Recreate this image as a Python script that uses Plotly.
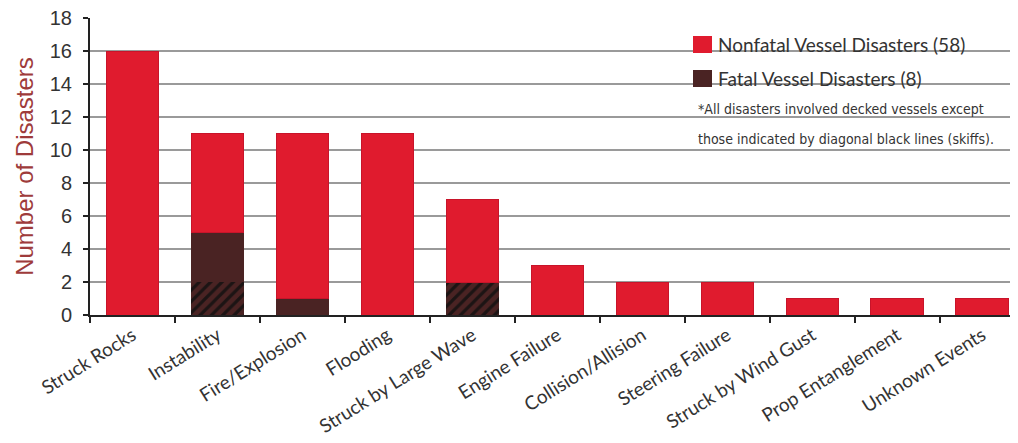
import plotly.graph_objects as go

categories = ["Struck Rocks", "Instability", "Fire/Explosion", "Flooding",
              "Struck by Large Wave", "Engine Failure", "Collision/Allision",
              "Steering Failure", "Struck by Wind Gust", "Prop Entanglement",
              "Unknown Events"]
fatal_skiff = [0, 2, 0, 0, 2, 0, 0, 0, 0, 0, 0]
fatal_decked = [0, 3, 1, 0, 0, 0, 0, 0, 0, 0, 0]
nonfatal = [16, 6, 10, 11, 5, 3, 2, 2, 1, 1, 1]
y_ticks = [0, 2, 4, 6, 8, 10, 12, 14, 16, 18]

RED = "#E01B2E"
BROWN = "#4A2323"

fig = go.Figure()
fig.add_trace(go.Bar(
    x=categories, y=fatal_skiff, name="Fatal (skiff)", showlegend=False,
    marker=dict(color=BROWN, line=dict(width=0),
                pattern=dict(shape="/", fgcolor="#1c1414", bgcolor=BROWN,
                             size=8, solidity=0.4, fillmode="replace")),
    width=0.62,
))
fig.add_trace(go.Bar(
    x=categories, y=fatal_decked, name="Fatal Vessel Disasters (8)", showlegend=False,
    marker=dict(color=BROWN, line=dict(width=0)), width=0.62,
))
fig.add_trace(go.Bar(
    x=categories, y=nonfatal, name="Nonfatal Vessel Disasters (58)", showlegend=False,
    marker=dict(color=RED, line=dict(width=1, color="#C8142A")), width=0.62,
))

# page has an 8px body margin; figure coordinates are page coordinates minus 8
OFF = 8
W, H = 1018 - OFF, 443 - OFF
L, T = 90 - OFF, 18 - OFF
B = H - (315 - OFF)
R = 0
pw = W - L - R
ph = H - T - B

def px(x):
    return (x - OFF - L) / pw

def py(y):
    return (H - B - (y - OFF)) / ph

shapes = [
    dict(type="rect", xref="paper", yref="paper", x0=px(693), x1=px(712),
         y0=py(53), y1=py(36), fillcolor=RED, line=dict(width=0)),
    dict(type="rect", xref="paper", yref="paper", x0=px(693), x1=px(712),
         y0=py(87), y1=py(70), fillcolor=BROWN, line=dict(width=0)),
]
LEG_FONT = dict(family="Lato, Open Sans, sans-serif", size=19, color="#333333")
NOTE_FONT = dict(family="DejaVu Sans Condensed, Liberation Sans Narrow, sans-serif",
                 size=14, color="#333333")
annotations = [
    dict(text="Nonfatal Vessel Disasters (58)", xref="paper", yref="paper",
         x=px(716), y=py(44), xanchor="left", yanchor="middle", showarrow=False,
         font=LEG_FONT),
    dict(text="Fatal Vessel Disasters (8)", xref="paper", yref="paper",
         x=px(716), y=py(78), xanchor="left", yanchor="middle", showarrow=False,
         font=LEG_FONT),
    dict(text="*All disasters involved decked vessels except", xref="paper", yref="paper",
         x=px(696), y=py(109), xanchor="left", yanchor="middle", showarrow=False,
         font=NOTE_FONT),
    dict(text="those indicated by diagonal black lines (skiffs).", xref="paper", yref="paper",
         x=px(696), y=py(139), xanchor="left", yanchor="middle", showarrow=False,
         font=NOTE_FONT),
]

fig.update_layout(
    width=W, height=H,
    margin=dict(l=L, r=R, t=T, b=B, autoexpand=False),
    barmode="stack",
    paper_bgcolor="white", plot_bgcolor="white",
    showlegend=False,
    shapes=shapes, annotations=annotations,
    xaxis=dict(
        range=[-0.5, 10.42], tickangle=-32, tickson="boundaries",
        ticks="outside", ticklen=6, tickcolor="#222", tickwidth=1.5,
        showline=True, linecolor="#222", linewidth=2,
        tickfont=dict(family="Lato, Open Sans, sans-serif", size=19, color="#333333"),
        showgrid=False, automargin=False,
    ),
    yaxis=dict(
        range=[0, 18], tickvals=y_ticks, ticklabeloverflow="allow",
        ticklabelstandoff=7,
        ticks="outside", ticklen=5, tickcolor="#222", tickwidth=1.5,
        showline=True, linecolor="#222", linewidth=2,
        showgrid=True, gridcolor="#9a9a9a", gridwidth=1.5,
        tickfont=dict(family="Liberation Sans, Arial, sans-serif", size=20, color="#333333"),
        title=dict(text="Number of Disasters", standoff=9,
                   font=dict(family="Liberation Sans, Arial, sans-serif", size=24,
                             color="#9E3B3B")),
        zeroline=False, automargin=False,
    ),
)

fig.write_html("out.html")
